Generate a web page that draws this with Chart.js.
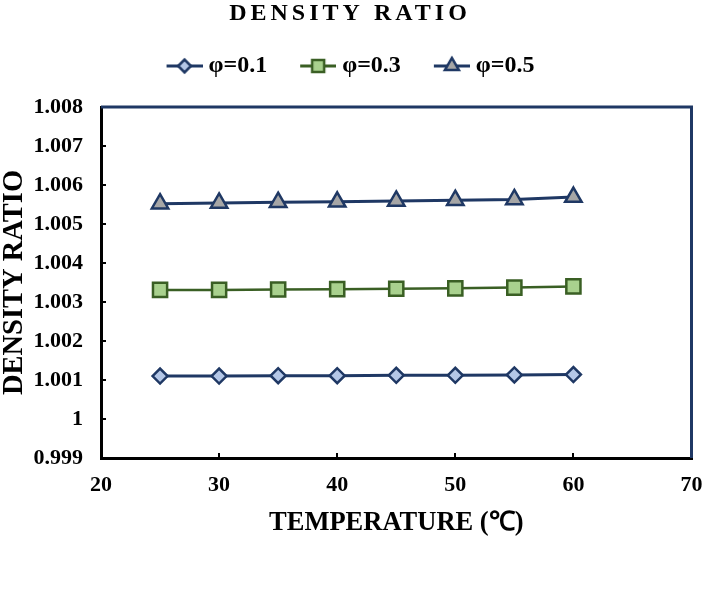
<!DOCTYPE html>
<html>
<head>
<meta charset="utf-8">
<script src="https://cdn.jsdelivr.net/npm/chart.js@4.4.1/dist/chart.umd.min.js"></script>
<style>
  html, body { margin: 0; padding: 0; background: #fff; }
  #wrap { position: relative; width: 704px; height: 594px; }
</style>
</head>
<body>
<div id="wrap"><canvas id="chart"></canvas></div>
<script>
// Chart text
const TITLE = "DENSITY RATIO";
const X_TITLE = "TEMPERATURE (℃)";
const Y_TITLE = "DENSITY RATIO";

// Data
const TEMPS = [25, 30, 35, 40, 45, 50, 55, 60];
const PHI_01 = [1.0011, 1.0011, 1.00111, 1.00111, 1.00112, 1.00112, 1.00113, 1.00114];
const PHI_03 = [1.00331, 1.00331, 1.00332, 1.00333, 1.00334, 1.00335, 1.00337, 1.0034];
const PHI_05 = [1.00552, 1.00554, 1.00556, 1.00557, 1.00559, 1.00561, 1.00563, 1.00569];
const SERIES_LABELS = ["φ=0.1", "φ=0.3", "φ=0.5"];

// Axis ranges
const X_MIN = 20, X_MAX = 70, X_STEP = 10;
const Y_MIN = 0.999, Y_MAX = 1.008, Y_STEP = 0.001;

const SERIF = "'Liberation Serif', 'Times New Roman', serif";
const NAVY = "#1F3864";
const GREEN = "#3A5F24";

const styles = [
  { line: NAVY, fill: "#B4C7E7", shape: "rectRot", radius: 7.5, lw: 3 },
  { line: GREEN, fill: "#A9D18E", shape: "rect", radius: 10, lw: 2.5 },
  { line: NAVY, fill: "#A6A6A6", shape: "triangle", radius: 9.5, lw: 3 },
];

const toPoints = (ys) => TEMPS.map((t, i) => ({ x: t, y: ys[i] }));

const datasets = [PHI_01, PHI_03, PHI_05].map((ys, i) => ({
  label: SERIES_LABELS[i],
  data: toPoints(ys),
  borderColor: styles[i].line,
  borderWidth: styles[i].lw,
  pointStyle: styles[i].shape,
  pointRadius: styles[i].radius,
  pointHoverRadius: styles[i].radius,
  pointBackgroundColor: styles[i].fill,
  pointBorderColor: styles[i].line,
  pointBorderWidth: 2.5,
  tension: 0,
}));

// legend glyph: short line with the marker on it, drawn at the right end of the canvas
const LEG_BOX = 37;
const LEG_PAD = 26;
const GLYPH_W = 36;
const makeGlyph = (s) => {
  const c = document.createElement("canvas");
  c.width = LEG_BOX + 12;
  c.height = 22;
  const ctx = c.getContext("2d");
  const x0 = c.width - GLYPH_W;
  ctx.strokeStyle = s.line;
  ctx.lineWidth = 3;
  ctx.beginPath();
  ctx.moveTo(x0, 11);
  ctx.lineTo(c.width, 11);
  ctx.stroke();
  ctx.fillStyle = s.fill;
  ctx.lineWidth = 2.5;
  Chart.helpers.drawPoint(ctx, { pointStyle: s.shape, radius: s.radius * 0.85, borderWidth: 2.5, rotation: 0 }, x0 + GLYPH_W / 2, 11);
  return c;
};
const glyphs = styles.map(makeGlyph);

// title with letter spacing + blue frame on top/right
const framePlugin = {
  id: "frame",
  beforeInit(chart) {
    // leave a gap between legend and plot
    const fit = chart.legend.fit;
    chart.legend.fit = function () {
      fit.bind(this)();
      this.height += 19;
    };
  },
  afterDraw(chart) {
    const { ctx, chartArea: a } = chart;
    ctx.save();
    ctx.strokeStyle = NAVY;
    ctx.lineWidth = 3;
    ctx.beginPath();
    ctx.moveTo(a.left, a.top);
    ctx.lineTo(a.right, a.top);
    ctx.lineTo(a.right, a.bottom);
    ctx.stroke();

    ctx.fillStyle = "#000";
    ctx.font = "bold 24px " + SERIF;
    ctx.letterSpacing = "4px";
    ctx.textAlign = "center";
    ctx.textBaseline = "middle";
    ctx.fillText(TITLE, 350, 14);
    ctx.restore();
  },
};

new Chart(document.getElementById("chart"), {
  type: "line",
  data: { datasets },
  options: {
    responsive: true,
    maintainAspectRatio: false,
    animation: false,
    layout: { padding: { top: 28, left: 0, right: 10, bottom: 55 } },
    plugins: {
      tooltip: { enabled: false },
      legend: {
        position: "top",
        labels: {
          usePointStyle: true,
          pointStyleWidth: LEG_BOX,
          padding: LEG_PAD,
          color: "#000",
          font: { family: SERIF, size: 24, weight: "bold" },
          generateLabels: (chart) =>
            chart.data.datasets.map((ds, i) => ({
              text: ds.label,
              pointStyle: glyphs[i],
              fillStyle: styles[i].fill,
              strokeStyle: styles[i].line,
              lineWidth: 0,
              hidden: false,
              datasetIndex: i,
              fontColor: "#000",
            })),
        },
      },
    },
    scales: {
      x: {
        type: "linear",
        min: X_MIN,
        max: X_MAX,
        afterFit: (scale) => { scale.height = 81; scale.paddingRight = 9; },
        border: { color: "#000", width: 3 },
        grid: { drawOnChartArea: false, drawTicks: true, tickLength: -5, tickColor: "#000", lineWidth: 2 },
        ticks: {
          stepSize: X_STEP,
          color: "#000",
          padding: 19,
          font: { family: SERIF, size: 22, weight: "bold" },
        },
        title: {
          display: true,
          text: X_TITLE,
          color: "#000",
          padding: { top: 0, bottom: 0 },
          font: { family: SERIF, size: 26.5, weight: "bold", lineHeight: 1.2 },
        },
      },
      y: {
        min: Y_MIN,
        max: Y_MAX,
        afterFit: (scale) => { scale.width = 101; },
        border: { color: "#000", width: 3 },
        grid: { drawOnChartArea: false, drawTicks: true, tickLength: -5, tickColor: "#000", lineWidth: 2 },
        ticks: {
          stepSize: Y_STEP,
          color: "#000",
          padding: 23,
          font: { family: SERIF, size: 22, weight: "bold" },
          callback: (v) => String(+v.toFixed(3)),
        },
        title: {
          display: true,
          text: Y_TITLE,
          color: "#000",
          padding: { top: 0, bottom: 0 },
          font: { family: SERIF, size: 28.5, weight: "bold", lineHeight: 1 },
        },
      },
    },
  },
  plugins: [framePlugin],
});
</script>
</body>
</html>
